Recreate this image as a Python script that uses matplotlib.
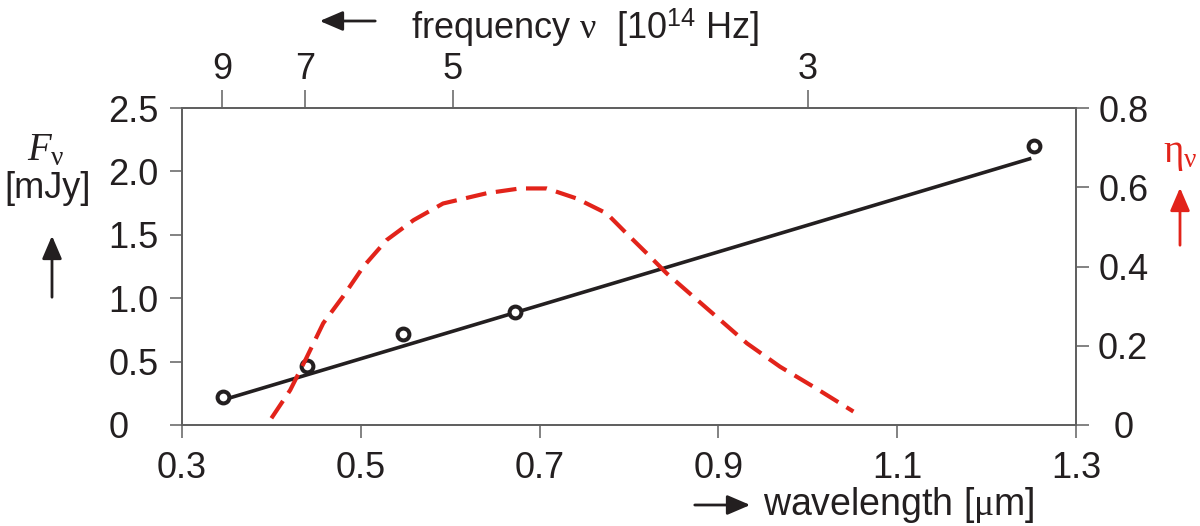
import numpy as np
import matplotlib.pyplot as plt

plt.rcParams['font.family'] = ['Liberation Sans', 'DejaVu Sans']
plt.rcParams['mathtext.fontset'] = 'custom'
plt.rcParams['mathtext.rm'] = 'Liberation Serif'
plt.rcParams['mathtext.it'] = 'Liberation Serif:italic'
plt.rcParams['mathtext.sf'] = 'Liberation Sans'

# measured flux points
wl_pts = [0.3455, 0.4395, 0.547, 0.6725, 1.253]
flux_pts = [0.223, 0.465, 0.715, 0.889, 2.20]

# fitted line (ends)
wl_fit = [0.354, 1.250]
flux_fit = [0.215, 2.103]

# efficiency curve eta_nu (right axis)
wl_eta = [0.400, 0.421, 0.438, 0.458, 0.480, 0.503, 0.529, 0.559, 0.592, 0.641,
          0.678, 0.708, 0.741, 0.775, 0.797, 0.820, 0.842, 0.872, 0.898, 0.932,
          0.969, 1.006, 1.051]
eta = [0.017, 0.088, 0.164, 0.257, 0.324, 0.400, 0.467, 0.517, 0.559, 0.585,
       0.597, 0.597, 0.572, 0.534, 0.484, 0.433, 0.383, 0.324, 0.273, 0.206,
       0.147, 0.097, 0.034]

# frequency ticks (10^14 Hz) and where they sit in wavelength
freq_labels = ['9', '7', '5', '3']
freq_pos = [0.345, 0.438, 0.603, 1.0]

red = '#e2231a'
dark = '#231f20'
spine_c = '#606060'
fs = 26

fig = plt.figure(figsize=(12, 5.26), dpi=100)
ax = fig.add_axes([182/1200, 1 - 425/526, (1076-182)/1200, (425-108)/526])
axr = ax.twinx()
axt = ax.twiny()

ax.plot(wl_fit, flux_fit, color=dark, lw=2.6, solid_capstyle='butt', zorder=2)
ax.plot(wl_pts, flux_pts, 'o', ms=8.5, mfc='white', mec=dark, mew=2.9, zorder=3)
axr.plot(wl_eta, eta, color=red, lw=3, dashes=(5, 2.3))

ax.set_xlim(0.3, 1.3)
ax.set_ylim(0, 2.5)
axr.set_ylim(0, 0.8)
axt.set_xlim(0.3, 1.3)

ax.set_xticks([0.3, 0.5, 0.7, 0.9, 1.1, 1.3])
ax.set_xticklabels(['0.3', '0.5', '0.7', '0.9', '1.1', '1.3'])
ax.set_yticks([0, 0.5, 1.0, 1.5, 2.0, 2.5])
ax.set_yticklabels(['0', '0.5', '1.0', '1.5', '2.0', '2.5'])
axr.set_yticks([0, 0.2, 0.4, 0.6, 0.8])
axr.set_yticklabels(['0', '0.2', '0.4', '0.6', '0.8'])
axt.set_xticks(freq_pos)
axt.set_xticklabels(freq_labels)

for a in (ax, axr, axt):
    for s in a.spines.values():
        s.set_color(spine_c)
        s.set_linewidth(1.1)

ax.tick_params(axis='x', direction='out', length=9, width=1.1, color=spine_c,
               pad=10, labelsize=fs, labelcolor=dark)
ax.tick_params(axis='y', direction='out', length=9, width=1.1, color=spine_c,
               pad=44, labelsize=fs, labelcolor=dark)
for lab in ax.get_yticklabels():
    lab.set_ha('left')
axr.tick_params(axis='y', direction='out', length=9, width=1.1, color=spine_c,
                pad=25, labelsize=fs, labelcolor=dark)
for lab in axr.get_yticklabels():
    lab.set_ha('center')
axt.tick_params(axis='x', direction='out', length=13, width=1.1, color=spine_c,
                pad=2, labelsize=fs, labelcolor=dark)


def fx(px):
    return px / 1200


def fy(py):
    return 1 - py / 526


# axis titles
fig.text(fx(411), fy(28), r'frequency $\mathrm{\nu}$  [10$^{\mathregular{14}}$ Hz]',
         fontsize=fs, color=dark, ha='left', va='center')
fig.text(fx(763), fy(505), r'wavelength [$\mathrm{\mu}$m]',
         fontsize=fs + 1, color=dark, ha='left', va='center')
fig.text(fx(46), fy(150), r'$F_{\mathrm{\nu}}$', fontsize=fs + 2, color=dark,
         ha='center', va='center')
fig.text(fx(48), fy(189), '[mJy]', fontsize=fs, color=dark, ha='center', va='center')
fig.text(fx(1180), fy(155), r'$\mathrm{\eta_{\nu}}$', fontsize=fs + 2, color=red,
         ha='center', va='center')

arrow_kw = dict(arrowstyle='-|>,head_length=0.7,head_width=0.3', lw=2, mutation_scale=20)
ax.annotate('', xy=(fx(317), fy(21)), xytext=(fx(378), fy(21)), xycoords='figure fraction',
            arrowprops=dict(color=dark, **arrow_kw))
ax.annotate('', xy=(fx(753), fy(505)), xytext=(fx(692), fy(505)), xycoords='figure fraction',
            arrowprops=dict(color=dark, **arrow_kw))
ax.annotate('', xy=(fx(52), fy(233)), xytext=(fx(52), fy(300)), xycoords='figure fraction',
            arrowprops=dict(color=dark, **arrow_kw))
ax.annotate('', xy=(fx(1180), fy(185)), xytext=(fx(1180), fy(248)), xycoords='figure fraction',
            arrowprops=dict(color=red, **arrow_kw))

fig.savefig('out.png', dpi=100)
